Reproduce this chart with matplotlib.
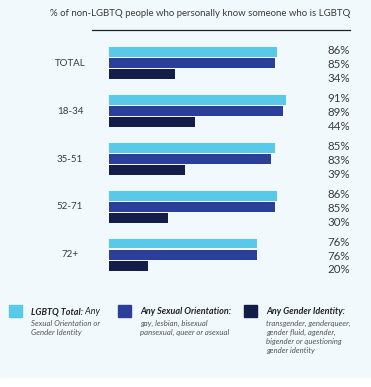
import matplotlib
matplotlib.use("Agg")
import matplotlib.pyplot as plt
from matplotlib.patches import Rectangle

# data
groups = ["TOTAL", "18-34", "35-51", "52-71", "72+"]
lgbtq_total = [86, 91, 85, 86, 76]
sexual_orientation = [85, 89, 83, 85, 76]
gender_identity = [34, 44, 39, 30, 20]

series = [lgbtq_total, sexual_orientation, gender_identity]
colors = ["#58c9e8", "#2c3f98", "#141c48"]

title = "% of non-LGBTQ people who personally know someone who is LGBTQ"
legend_head = ["LGBTQ Total:", "Any Sexual Orientation:", "Any Gender Identity:"]
legend_tail = [" Any", "", ""]
legend_lines = [
    ["Sexual Orientation or", "Gender Identity"],
    ["gay, lesbian, bisexual", "pansexual, queer or asexual"],
    ["transgender, genderqueer,", "gender fluid, agender,", "bigender or questioning", "gender identity"],
]

plt.rcParams["font.family"] = ["Lato", "DejaVu Sans"]
W, H = 371, 387
fig = plt.figure(figsize=(W / 100, H / 100), dpi=100)
fig.patch.set_facecolor("#f1f9fc")
fig.patches.append(Rectangle((0, 0), 1, 9 / H, transform=fig.transFigure, color="white", zorder=0))


def fx(px):
    return px / W


def fy(py):
    return 1 - py / H


txt = "#3a3a3a"

# bar axes: pixel-based vertical layout, percent scale horizontally
x0, x1, y0, y1 = 109, 350, 40, 280
ax = fig.add_axes([fx(x0), fy(y1), fx(x1 - x0), (y1 - y0) / H])
ax.set_xlim(0, (x1 - x0) / 1.95)
ax.set_ylim(y1, y0)
ax.axis("off")

pitch = 47.9
bar_h = 9.6
for g, name in enumerate(groups):
    top = 47.3 + pitch * g
    for i, vals in enumerate(series):
        yc = top + bar_h / 2 + i * 11
        ax.barh(yc, vals[g], height=bar_h, color=colors[i], left=0)
        ax.text(1.0, top + 3.4 + i * 13.8, f"{vals[g]}%", transform=ax.get_yaxis_transform(),
                ha="right", va="center", fontsize=8.3, color=txt)
    fig.text(fx(70), fy(top + 16), name, ha="center", va="center", fontsize=7, color=txt)

# title and rule
fig.text(fx(350), fy(13), title, ha="right", va="center", fontsize=6.9, color=txt)
fig.add_artist(plt.Line2D([fx(92), fx(350)], [fy(29.5), fy(29.5)], color="#222222", lw=0.9))

# legend
renderer = fig.canvas.get_renderer()
sq_x = [9, 118, 244]
for k in range(3):
    fig.patches.append(Rectangle((fx(sq_x[k]), fy(317)), 13 / W, 12 / H,
                                 transform=fig.transFigure, color=colors[k]))
    tx = sq_x[k] + 22
    t = fig.text(fx(tx), fy(312), legend_head[k], ha="left", va="center", fontsize=6.5,
                 fontweight="bold", style="italic", color="#222222")
    if legend_tail[k]:
        bb = t.get_window_extent(renderer)
        fig.text(bb.x1 / fig.bbox.width, fy(312), legend_tail[k], ha="left", va="center",
                 fontsize=6.5, style="italic", color="#222222")
    for j, line in enumerate(legend_lines[k]):
        fig.text(fx(tx), fy(323 + j * 9.3), line, ha="left", va="center", fontsize=5.6,
                 style="italic", color="#555555")

fig.savefig("out.png", dpi=100, facecolor=fig.get_facecolor())
